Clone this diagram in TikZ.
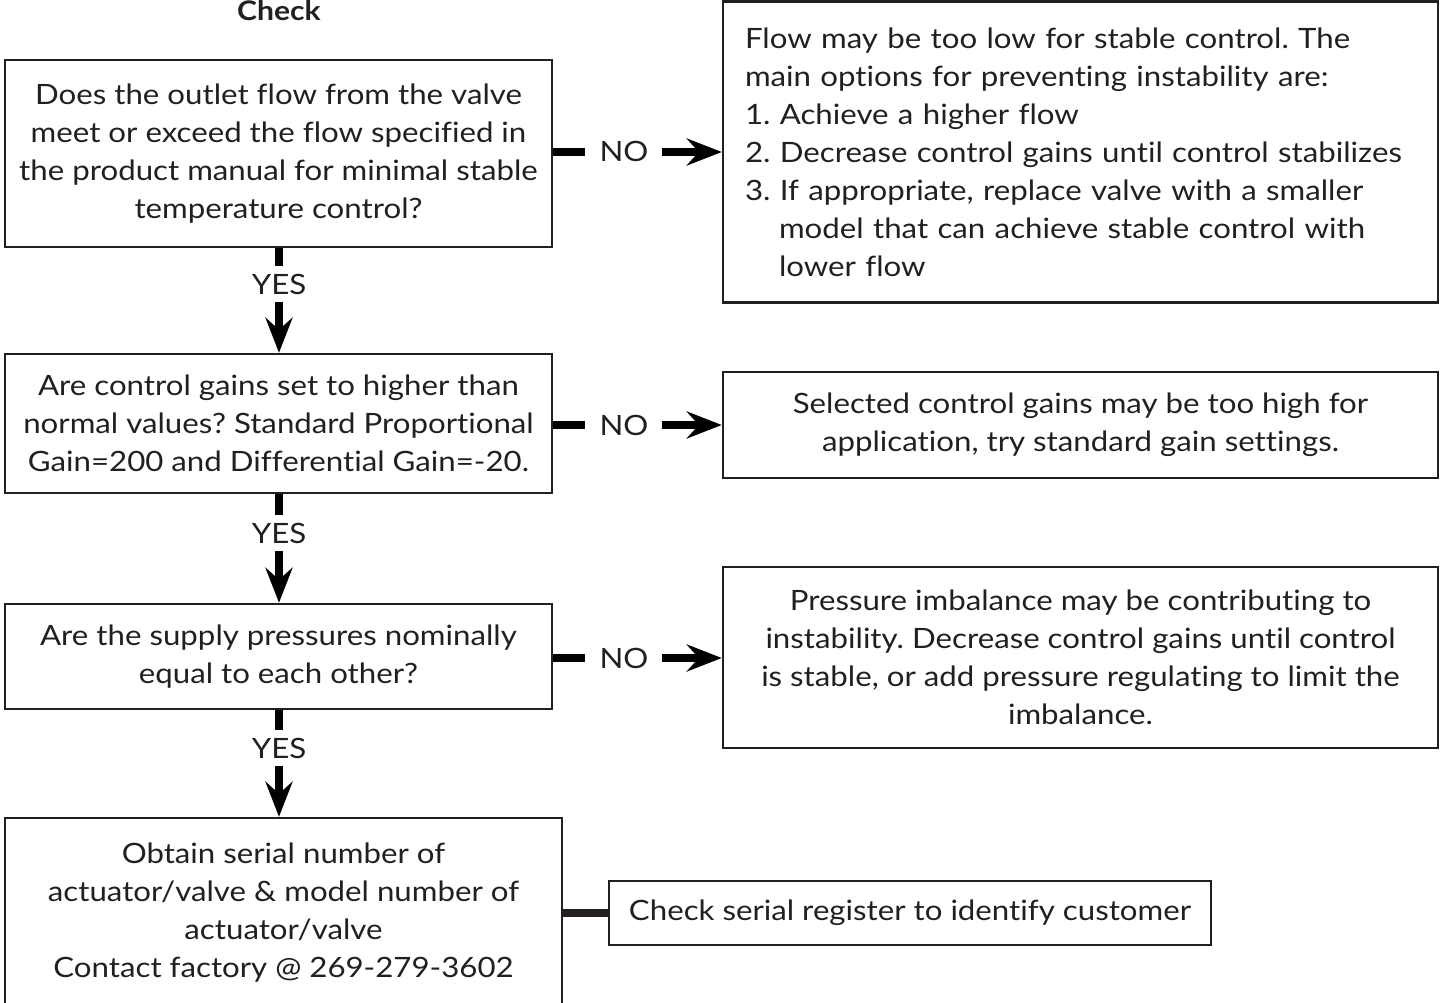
\documentclass[tikz,border=0pt]{standalone}
\usepackage{fontspec}
\setmainfont{Lato}[FakeStretch=1.115,Ligatures=NoCommon]
\usetikzlibrary{arrows.meta}
\definecolor{ink}{HTML}{231F20}
\frenchspacing
\begin{document}
\frenchspacing
\begin{tikzpicture}[x=1pt,y=-1pt,
  box/.style={draw=ink,line width=2.5pt,inner sep=0pt,align=center,text=ink,
    font=\fontsize{28}{38}\selectfont},
  lbl/.style={text=ink,font=\fontsize{28}{38}\selectfont,inner sep=0pt,text height=20pt,text depth=0pt},
  conn/.style={line width=8pt,black},
  arr/.style={conn,-{Stealth[length=35pt,width=27pt,inset=12pt]}}]
\useasboundingbox (0,0) rectangle (1442,1003);
% title
\node[anchor=base,text=ink,font=\fontsize{27}{32}\selectfont\bfseries,inner sep=0pt] (title) at (279,21) {Check};
% left column
\node[box,minimum width=547pt,minimum height=187pt] (b1) at (278.5,153.5)
 {Does the outlet flow from the valve\\meet or exceed the flow specified in\\the product manual for minimal stable\\temperature control?};
\node[box,minimum width=547pt,minimum height=139pt] (b2) at (278.5,423.5)
 {Are control gains set to higher than\\normal values? Standard Proportional\\Gain=200 and Differential Gain=-20.};
\node[box,minimum width=547pt,minimum height=105pt] (b3) at (278.5,656.5)
 {Are the supply pressures nominally\\equal to each other?};
\node[box,minimum width=557pt,minimum height=189pt] (b4) at (283.5,912.5)
 {Obtain serial number of\\actuator/valve \& model number of\\actuator/valve\\Contact factory @ 269-279-3602};
% right column
\node[box,minimum width=715pt,minimum height=301pt,align=left,text width=671pt] (r1) at (1080.5,152)
 {Flow may be too low for stable control. The\\main options for preventing instability are:\\1. Achieve a higher flow\\2. Decrease control gains until control stabilizes\\3. If appropriate, replace valve with a smaller\\\hspace*{34pt}model that can achieve stable control with\\\hspace*{34pt}lower flow};
\node[box,minimum width=715pt,minimum height=106pt] (r2) at (1080.5,425)
 {Selected control gains may be too high for\\application, try standard gain settings.};
\node[box,minimum width=715pt,minimum height=181pt] (r3) at (1080.5,657.5)
 {Pressure imbalance may be contributing to\\instability. Decrease control gains until control\\is stable, or add pressure regulating to limit the\\imbalance.};
\node[box,minimum width=602pt,minimum height=64pt] (r4) at (910,913)
 {Check serial register to identify customer};
% NO labels
\node[lbl] (n1) at (624,152) {NO};
\node[lbl] (n2) at (624,425) {NO};
\node[lbl] (n3) at (624,658) {NO};
\draw[conn] (b1.east |- n1) -- ([xshift=-14pt]n1.west);
\draw[arr] ([xshift=13pt]n1.east) -- (r1.west |- n1);
\draw[conn] (b2.east |- n2) -- ([xshift=-14pt]n2.west);
\draw[arr] ([xshift=13pt]n2.east) -- (r2.west |- n2);
\draw[conn] (b3.east |- n3) -- ([xshift=-14pt]n3.west);
\draw[arr] ([xshift=13pt]n3.east) -- (r3.west |- n3);
% YES labels
\node[lbl] (y1) at (279,284) {YES};
\node[lbl] (y2) at (279,533) {YES};
\node[lbl] (y3) at (279,748) {YES};
\draw[conn] (b1.south -| y1) -- ([yshift=8pt]y1.north);
\draw[arr] ([yshift=-8pt]y1.south) -- (b2.north -| y1);
\draw[conn] (b2.south -| y2) -- ([yshift=8pt]y2.north);
\draw[arr] ([yshift=-8pt]y2.south) -- (b3.north -| y2);
\draw[conn] (b3.south -| y3) -- ([yshift=8pt]y3.north);
\draw[arr] ([yshift=-8pt]y3.south) -- (b4.north -| y3);
% serial register link
\draw[conn,ink] (b4.east |- r4) -- (r4.west);
\end{tikzpicture}
\end{document}
